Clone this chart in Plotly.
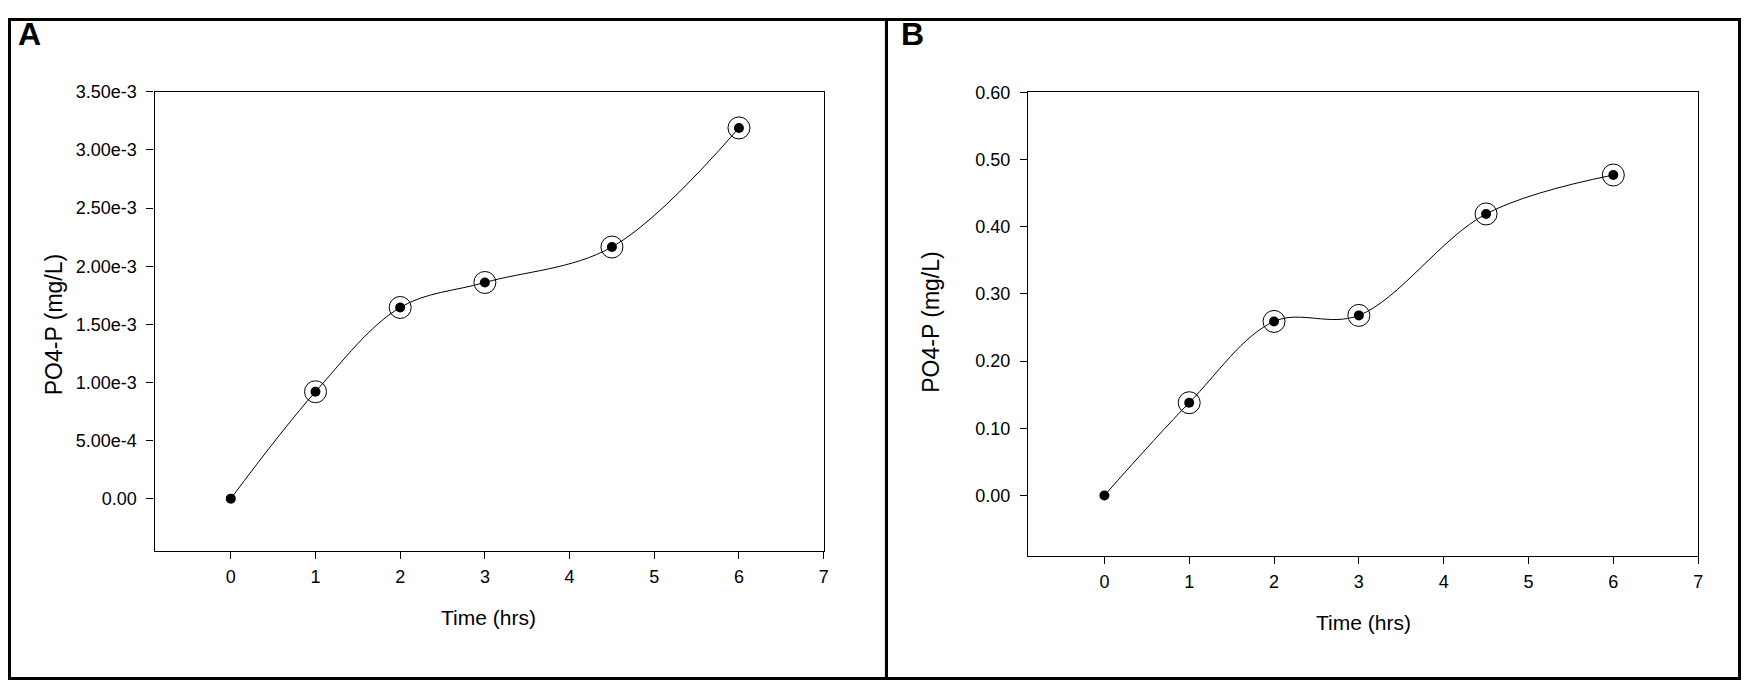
"""
Two-panel PO4-P release over time, drawn with Plotly.
"""

import plotly.graph_objects as go

# the page body keeps its margin (plus a small gap above the plot div),
# so the figure is sized to fit inside what is left of the window
PAGE_W, PAGE_H = 1754, 698
OFF_X, OFF_Y = 8, 18
W, H = PAGE_W - 2 * OFF_X, PAGE_H - OFF_Y - 8

# data
time_hrs = [0, 1, 2, 3, 4.5, 6]
po4_a = [0.0, 0.92e-3, 1.645e-3, 1.86e-3, 2.165e-3, 3.19e-3]
po4_b = [0.0, 0.138, 0.259, 0.268, 0.419, 0.477]

x_ticks = [0, 1, 2, 3, 4, 5, 6, 7]
a_tickvals = [0.0, 0.5e-3, 1.0e-3, 1.5e-3, 2.0e-3, 2.5e-3, 3.0e-3, 3.5e-3]
a_ticktext = ["0.00", "5.00e-4", "1.00e-3", "1.50e-3", "2.00e-3",
              "2.50e-3", "3.00e-3", "3.50e-3"]
b_tickvals = [0.0, 0.1, 0.2, 0.3, 0.4, 0.5, 0.6]
b_ticktext = ["0.00", "0.10", "0.20", "0.30", "0.40", "0.50", "0.60"]

FONT = "Liberation Sans, Arial, sans-serif"


def px_x(p):
    """Page pixel column -> paper fraction."""
    return (p - OFF_X) / W


def px_y(p):
    """Page pixel row -> paper fraction."""
    return 1 - (p - OFF_Y) / H


fig = go.Figure()

panels = [
    # (values, xaxis, yaxis)
    (po4_a, "x", "y"),
    (po4_b, "x2", "y2"),
]

for vals, xa, ya in panels:
    # smooth curve with solid dots
    fig.add_trace(go.Scatter(
        x=time_hrs, y=vals, xaxis=xa, yaxis=ya,
        mode="lines+markers",
        line=dict(color="black", width=1, shape="spline", smoothing=1.0),
        marker=dict(color="black", size=10),
        showlegend=False, hoverinfo="x+y",
    ))
    # open rings around every point but the origin
    fig.add_trace(go.Scatter(
        x=time_hrs[1:], y=vals[1:], xaxis=xa, yaxis=ya,
        mode="markers",
        marker=dict(symbol="circle-open", color="black", size=22,
                    line=dict(color="black", width=1)),
        showlegend=False, hoverinfo="skip",
    ))

xaxis_common = dict(
    range=[-0.9, 7], tickvals=x_ticks, ticks="outside", ticklen=7,
    tickwidth=1, tickcolor="black", showline=True, linecolor="black",
    linewidth=1.2, mirror=True, showgrid=False, zeroline=False,
    tickfont=dict(family=FONT, size=18, color="black"),
    ticklabelstandoff=2,
)
yaxis_common = dict(
    ticks="outside", ticklen=7, tickwidth=1, tickcolor="black",
    showline=True, linecolor="black", linewidth=1.2, mirror=True,
    showgrid=False, zeroline=False,
    tickfont=dict(family=FONT, size=18, color="black"),
    ticklabelstandoff=6,
)

fig.update_layout(
    width=W, height=H,
    margin=dict(l=0, r=0, t=0, b=0),
    paper_bgcolor="white", plot_bgcolor="white",
    font=dict(family=FONT, color="black"),
    xaxis=dict(domain=[px_x(155), px_x(826)], anchor="y", **xaxis_common),
    yaxis=dict(domain=[px_y(559), px_y(93)], anchor="x",
               range=[-0.45e-3, 3.5e-3], tickvals=a_tickvals,
               ticktext=a_ticktext, **yaxis_common),
    xaxis2=dict(domain=[px_x(1031), px_x(1703)], anchor="y2", **xaxis_common),
    yaxis2=dict(domain=[px_y(564), px_y(93.5)], anchor="x2",
                range=[-0.09, 0.6], tickvals=b_tickvals,
                ticktext=b_ticktext, **yaxis_common),
)

# panel frames (outer edges pulled in to stay on the canvas)
top, bottom = OFF_Y + 1.5, min(691, OFF_Y + H - 1.5)
for x0, x1 in [(OFF_X + 1.5, 889), (889, PAGE_W - OFF_X - 1.5)]:
    fig.add_shape(type="rect", xref="paper", yref="paper",
                  x0=px_x(x0), x1=px_x(x1), y0=px_y(bottom), y1=px_y(top),
                  line=dict(color="black", width=3))

# axis titles and panel letters
notes = [
    # text, page x, page y, angle, size, bold
    ("A", 16, 34, 0, 32, True),
    ("B", 902, 34, 0, 32, True),
    ("Time (hrs)", 490, 627, 0, 21, False),
    ("Time (hrs)", 1367, 632, 0, 21, False),
    ("PO4-P (mg/L)", 55, 329, -90, 23, False),
    ("PO4-P (mg/L)", 934, 327, -90, 23, False),
]
for text, x, y, angle, size, bold in notes:
    fig.add_annotation(
        text=f"<b>{text}</b>" if bold else text,
        xref="paper", yref="paper", x=px_x(x), y=px_y(y),
        xanchor="left" if bold else "center", yanchor="middle",
        textangle=angle, showarrow=False,
        font=dict(family=FONT, size=size, color="black"),
    )

fig.write_html("out.html")
